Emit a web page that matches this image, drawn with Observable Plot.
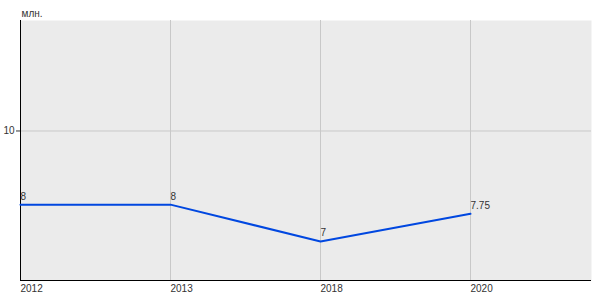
<!DOCTYPE html>
<html><head><meta charset="utf-8">
<script src="https://cdn.jsdelivr.net/npm/d3@7"></script>
<script src="https://cdn.jsdelivr.net/npm/@observablehq/plot@0.6"></script>
<style>body{margin:0;background:#fff}</style>
</head><body><div id="chart"></div>
<script>
const years = ["2012", "2013", "2018", "2020"];
const values = [8, 8, 7, 7.75];
const valueLabels = ["8", "8", "7", "7.75"];
const yTicks = [10];
const unitLabel = "млн.";

const data = years.map((y, i) => ({year: y, value: values[i], label: valueLabels[i]}));
const yMin = 5.94, yMax = 13;

const chart = Plot.plot({
  width: 600, height: 300,
  marginLeft: 20, marginRight: 9, marginTop: 20, marginBottom: 20,
  style: {fontFamily: "'Liberation Sans', Arial, sans-serif", fontSize: "10px", background: "#fff", color: "#333"},
  x: {type: "point", domain: years, range: [20, 470.5], padding: 0},
  y: {domain: [yMin, yMax]},
  marks: [
    Plot.frame({fill: "#ebebeb", stroke: null}),
    Plot.gridX(years.slice(1), {stroke: "#c8c8c8", strokeOpacity: 1}),
    Plot.gridY(yTicks, {stroke: "#c8c8c8", strokeOpacity: 1}),
    Plot.ruleX([years[0]], {stroke: "#000"}),
    Plot.ruleY([yMin], {stroke: "#000"}),
    Plot.line(data, {x: "year", y: "value", stroke: "#0047e0", strokeWidth: 2}),
    Plot.text(data, {x: "year", y: "value", text: "label", textAnchor: "start", lineAnchor: "bottom", dy: -5, fill: "#333"}),
    Plot.axisX({tickSize: 0, textAnchor: "start", tickPadding: 4, label: null, fill: "#333"}),
    Plot.axisY({ticks: yTicks, tickFormat: d3.format("d"), tickSize: 4, tickPadding: 2, label: null, fill: "#333"}),
    Plot.text([unitLabel], {frameAnchor: "top-left", dx: 1, dy: -4, lineAnchor: "bottom", fill: "#333"})
  ]
});
document.getElementById("chart").append(chart);
</script>
</body></html>
